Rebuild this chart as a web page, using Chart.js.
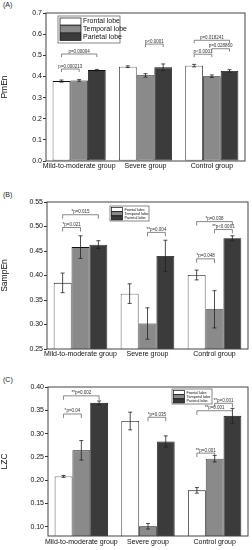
<!DOCTYPE html>
<html>
<head>
<meta charset="utf-8">
<script src="https://cdn.jsdelivr.net/npm/chart.js@4.4.1/dist/chart.umd.min.js"></script>
<style>
  body { margin: 0; background: #fff; width: 252px; height: 550px; position: relative; overflow: hidden; }
  canvas { position: absolute; left: 0; }
  .panel { position: absolute; left: 3px; font: 7px "Liberation Sans", Arial, sans-serif; color: #222; }
</style>
</head>
<body>
<div class="panel" style="top:1px">(A)</div>
<canvas id="gA" width="252" height="180" style="top:0"></canvas>
<div class="panel" style="top:191px">(B)</div>
<canvas id="gB" width="252" height="183" style="top:180px"></canvas>
<div class="panel" style="top:376px">(C)</div>
<canvas id="gC" width="252" height="187" style="top:363px"></canvas>
<script>
// Datos comunes
const grupos = ['Mild-to-moderate group', 'Severe group', 'Control group'];
const lobulos = ['Frontal lobe', 'Temporal lobe', 'Parietal lobe'];

// (A) PmEn
const pmenFrontal = [0.378, 0.446, 0.451];
const pmenTemporal = [0.381, 0.405, 0.401];
const pmenParietal = [0.430, 0.443, 0.426];
const pmenErrFrontal = [0.005, 0.004, 0.006];
const pmenErrTemporal = [0.004, 0.008, 0.006];
const pmenErrParietal = [0.003, 0.016, 0.006];
const pmenTicks = [0, 0.1, 0.2, 0.3, 0.4, 0.5, 0.6, 0.7];
const pmenSig = [
    { g: 0, a: 0, b: 1, y: 0.435, txt: 'p=0.000213' },
    { g: 0, a: 0, b: 2, y: 0.506, txt: 'p=0.00004' },
    { g: 1, a: 1, b: 2, y: 0.553, txt: 'p<0.0001' },
    { g: 2, a: 0, b: 2, y: 0.571, txt: 'p=0.018241' },
    { g: 2, a: 0, b: 1, y: 0.505, txt: 'p<0.0001' },
    { g: 2, a: 1, b: 2, y: 0.531, txt: 'p=0.028860' }
];

// (B) SampEn
const sampFrontal = [0.385, 0.363, 0.401];
const sampTemporal = [0.458, 0.302, 0.331];
const sampParietal = [0.463, 0.440, 0.476];
const sampErrFrontal = [0.020, 0.020, 0.010];
const sampErrTemporal = [0.023, 0.032, 0.038];
const sampErrParietal = [0.008, 0.032, 0.005];
const sampTicks = [0.25, 0.30, 0.35, 0.40, 0.45, 0.50, 0.55];
const sampSig = [
    { g: 0, a: 0, b: 1, y: 0.498, txt: '*p=0.021' },
    { g: 0, a: 0, b: 2, y: 0.524, txt: '*p=0.015' },
    { g: 1, a: 1, b: 2, y: 0.488, txt: '**p=0.004' },
    { g: 2, a: 0, b: 1, y: 0.434, txt: '*p=0.048' },
    { g: 2, a: 0, b: 2, y: 0.510, txt: '*p=0.038' },
    { g: 2, a: 1, b: 2, y: 0.494, txt: '**p<0.0001' }
];

// (C) LZC
const lzcFrontal = [0.208, 0.327, 0.178];
const lzcTemporal = [0.264, 0.101, 0.246];
const lzcParietal = [0.366, 0.283, 0.338];
const lzcErrFrontal = [0.002, 0.019, 0.006];
const lzcErrTemporal = [0.021, 0.006, 0.007];
const lzcErrParietal = [0.004, 0.012, 0.016];
const lzcTicks = [0.10, 0.15, 0.20, 0.25, 0.30, 0.35, 0.40];
const lzcSig = [
    { g: 0, a: 0, b: 1, y: 0.342, txt: '*p=0.04' },
    { g: 0, a: 0, b: 2, y: 0.381, txt: '**p=0.002' },
    { g: 1, a: 1, b: 2, y: 0.335, txt: '*p=0.035' },
    { g: 2, a: 0, b: 1, y: 0.258, txt: '**p=0.001' },
    { g: 2, a: 0, b: 2, y: 0.349, txt: '**p=0.001' },
    { g: 2, a: 1, b: 2, y: 0.365, txt: '**p=0.001' }
];

const COLORES = ['#ffffff', '#8a8a8a', '#3b3b3b'];
const FUENTE = "'Liberation Sans', Arial, sans-serif";

// Barras de error, corchetes de significancia, marco y leyenda
const pluginPanel = {
    id: 'panel',
    afterDatasetsDraw(chart, args, opts) {
        const ctx = chart.ctx;
        const ys = chart.scales.y;
        const area = chart.chartArea;
        ctx.save();

        // barras de error
        ctx.strokeStyle = '#222';
        ctx.lineWidth = 0.8;
        chart.data.datasets.forEach((ds, i) => {
            chart.getDatasetMeta(i).data.forEach((bar, j) => {
                const v = ds.data[j], e = ds.errores[j];
                const yt = ys.getPixelForValue(v + e);
                const yb = ys.getPixelForValue(v - e);
                ctx.beginPath();
                ctx.moveTo(bar.x, yt); ctx.lineTo(bar.x, yb);
                ctx.moveTo(bar.x - 2, yt); ctx.lineTo(bar.x + 2, yt);
                ctx.moveTo(bar.x - 2, yb); ctx.lineTo(bar.x + 2, yb);
                ctx.stroke();
            });
        });

        // corchetes
        ctx.strokeStyle = '#555';
        ctx.fillStyle = '#333';
        ctx.lineWidth = 0.7;
        ctx.font = opts.sigFont + 'px ' + FUENTE;
        ctx.textAlign = 'center';
        ctx.textBaseline = 'bottom';
        (opts.sig || []).forEach(s => {
            const x1 = chart.getDatasetMeta(s.a).data[s.g].x;
            const x2 = chart.getDatasetMeta(s.b).data[s.g].x;
            const y = ys.getPixelForValue(s.y);
            ctx.beginPath();
            ctx.moveTo(x1, y + opts.drop); ctx.lineTo(x1, y);
            ctx.lineTo(x2, y); ctx.lineTo(x2, y + opts.drop);
            ctx.stroke();
            ctx.fillText(s.txt, (x1 + x2) / 2, y - 0.5);
        });

        // marco
        ctx.strokeStyle = '#444';
        ctx.lineWidth = 1;
        ctx.strokeRect(area.left, area.top, area.right - area.left, area.bottom - area.top);

        // leyenda
        const L = opts.leyenda;
        ctx.lineWidth = 0.7;
        ctx.strokeStyle = '#555';
        ctx.strokeRect(L.x, L.y, L.w, L.h);
        ctx.font = L.font + 'px ' + FUENTE;
        ctx.textAlign = 'left';
        ctx.textBaseline = 'middle';
        lobulos.forEach((nombre, i) => {
            const yy = L.y + L.pad + i * L.fila;
            ctx.fillStyle = COLORES[i];
            ctx.fillRect(L.x + L.pad, yy, L.sw, L.sh);
            ctx.strokeStyle = '#111';
            ctx.strokeRect(L.x + L.pad, yy, L.sw, L.sh);
            ctx.fillStyle = '#111';
            ctx.fillText(nombre, L.x + L.pad + L.sw + 2, yy + L.sh / 2);
        });
        ctx.restore();
    }
};

function crearPanel(id, series, errores, ticks, sig, cfg) {
    const datasets = series.map((d, i) => ({
        label: lobulos[i],
        data: d,
        errores: errores[i],
        backgroundColor: COLORES[i],
        borderColor: '#111',
        borderWidth: 0.8,
        borderSkipped: false,
        barPercentage: 1,
        categoryPercentage: 0.8
    }));

    return new Chart(document.getElementById(id), {
        type: 'bar',
        data: { labels: grupos, datasets: datasets },
        options: {
            responsive: false,
            animation: false,
            layout: { padding: { left: 0, right: cfg.right, top: cfg.top, bottom: 0 } },
            plugins: {
                legend: { display: false },
                tooltip: { enabled: false },
                panel: { sig: sig, sigFont: cfg.sigFont, drop: cfg.drop, leyenda: cfg.leyenda }
            },
            scales: {
                x: {
                    grid: { display: false, drawTicks: false },
                    border: { display: false },
                    ticks: {
                        font: { size: 7, family: FUENTE }, color: '#111', padding: cfg.xPad,
                        maxRotation: 0, autoSkip: false
                    },
                    afterFit: s => { s.height = cfg.xAlto; }
                },
                y: {
                    min: cfg.min,
                    max: cfg.max,
                    afterBuildTicks: s => { s.ticks = ticks.map(v => ({ value: v })); },
                    grid: { display: true, drawOnChartArea: false, drawTicks: true, tickLength: 3, color: '#333' },
                    border: { display: false },
                    ticks: {
                        font: { size: 7, family: FUENTE },
                        color: '#111',
                        padding: 1,
                        callback: v => v.toFixed(cfg.dec)
                    },
                    title: { display: true, text: cfg.titulo, font: { size: 8.5, family: FUENTE }, color: '#111', padding: { top: 0, bottom: 3 } },
                    afterFit: s => { s.width = cfg.yAncho; }
                }
            }
        },
        plugins: [pluginPanel]
    });
}

crearPanel('gA', [pmenFrontal, pmenTemporal, pmenParietal],
    [pmenErrFrontal, pmenErrTemporal, pmenErrParietal], pmenTicks, pmenSig, {
        min: 0, max: 0.7, dec: 1, titulo: 'PmEn', top: 13, right: 7, xAlto: 19, yAncho: 46, xPad: 1,
        sigFont: 4.5, drop: 3,
        leyenda: { x: 58, y: 16, w: 62, h: 27, pad: 2, fila: 7.7, sw: 21, sh: 7, font: 7 }
    });

crearPanel('gB', [sampFrontal, sampTemporal, sampParietal],
    [sampErrFrontal, sampErrTemporal, sampErrParietal], sampTicks, sampSig, {
        min: 0.25, max: 0.55, dec: 2, titulo: 'SampEn', top: 22, right: 4, xAlto: 14, yAncho: 47, xPad: 1,
        sigFont: 4.5, drop: 4,
        leyenda: { x: 110, y: 26, w: 39, h: 15, pad: 1.5, fila: 4.2, sw: 11, sh: 4, font: 3.8 }
    });

crearPanel('gC', [lzcFrontal, lzcTemporal, lzcParietal],
    [lzcErrFrontal, lzcErrTemporal, lzcErrParietal], lzcTicks, lzcSig, {
        min: 0.08, max: 0.40, dec: 2, titulo: 'LZC', top: 24, right: 4, xAlto: 14, yAncho: 48, xPad: 2,
        sigFont: 4.5, drop: 4,
        leyenda: { x: 172, y: 26, w: 40, h: 15, pad: 1.5, fila: 4.2, sw: 11, sh: 4, font: 3.8 }
    });
</script>
</body>
</html>
